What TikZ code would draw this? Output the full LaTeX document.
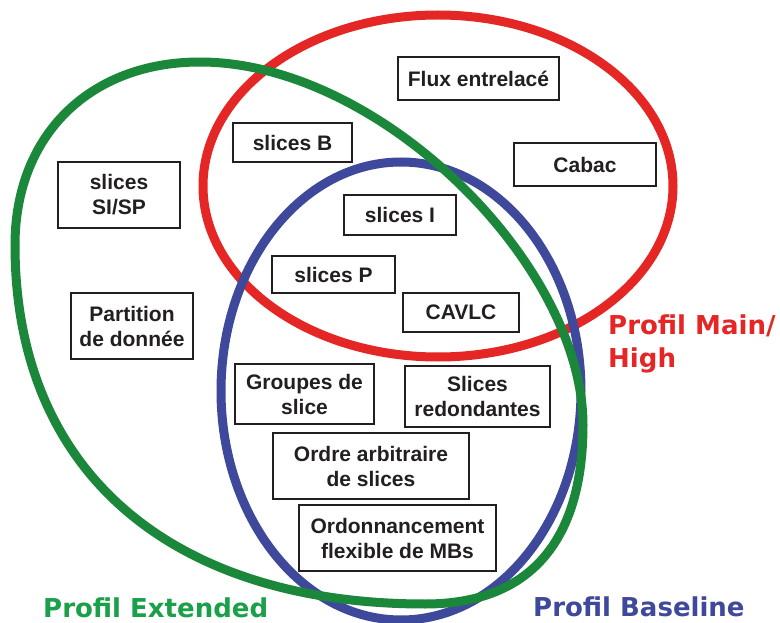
\documentclass[tikz,border=0pt]{standalone}
\usepackage{fontspec}
\setmainfont{Liberation Sans}
\newfontfamily\titlefont{DejaVu Sans}
\definecolor{cred}{RGB}{228,38,36}
\definecolor{cblue}{RGB}{62,73,155}
\definecolor{cgreen}{RGB}{27,135,58}
\definecolor{cgreentxt}{RGB}{25,160,72}
\definecolor{cbox}{RGB}{35,31,32}
\tikzset{
  feat/.style={draw=cbox, line width=2pt, fill=white, inner sep=0pt, align=center,
    font=\bfseries\fontsize{21}{25}\selectfont, text=cbox},
  ring/.style={line width=9pt},
  ttl/.style={inner sep=0pt, align=left, font=\titlefont\bfseries\fontsize{26}{33}\selectfont}
}
\begin{document}
\begin{tikzpicture}[x=1pt,y=-1pt]
\useasboundingbox (0,0) rectangle (780,623);
\fill[white] (0,0) rectangle (780,623);
% rings
\draw[ring, cred] (438,186) ellipse [x radius=235, y radius=171];
\draw[ring, cblue] (401,391) ellipse [x radius=180, y radius=229];
\coordinate (gT) at (200,62);
\coordinate (gR) at (583,425);
\coordinate (gB) at (425,604);
\coordinate (gL) at (15,245);
\draw[ring, cgreen] (gT) .. controls (380,62) and (583,265) .. (gR)
  .. controls (583,535) and (535,604) .. (gB)
  .. controls (175,604) and (15,475) .. (gL)
  .. controls (15,135) and (90,62) .. (gT) -- cycle;
% boxes
\node[feat, minimum width=161pt, minimum height=43pt] (flux) at (478.5,78.5) {Flux entrelacé};
\node[feat, minimum width=119pt, minimum height=39pt] (sb) at (292.5,142.5) {slices B};
\node[feat, minimum width=142pt, minimum height=43pt] (cabac) at (585,164.5) {Cabac};
\node[feat, minimum width=122pt, minimum height=66pt] (sisp) at (119,195) {slices\\SI/SP};
\node[feat, minimum width=112pt, minimum height=40pt] (si) at (400,215) {slices I};
\node[feat, minimum width=123pt, minimum height=37pt] (sp) at (333.5,274.5) {slices P};
\node[feat, minimum width=116pt, minimum height=39pt] (cavlc) at (461,312.5) {CAVLC};
\node[feat, minimum width=122pt, minimum height=66pt] (part) at (132,326) {Partition\\de donnée};
\node[feat, minimum width=139pt, minimum height=60pt] (grp) at (304.5,394) {Groupes de\\slice};
\node[feat, minimum width=145pt, minimum height=61pt] (red) at (477.5,396.5) {Slices\\redondantes};
\node[feat, minimum width=196pt, minimum height=66pt] (ord) at (371,466) {Ordre arbitraire\\de slices};
\node[feat, minimum width=197pt, minimum height=66pt] (fmo) at (397.5,538) {Ordonnancement\\flexible de MBs};
% titles
\node[ttl, text=cred, anchor=north west] (tmain) at (608,315) {Profil Main/\\High};
\node[ttl, text=cgreentxt, anchor=base west] (text) at (43,617) {Profil Extended};
\node[ttl, text=cblue, anchor=base west] (tbase) at (533,616) {Profil Baseline};
\end{tikzpicture}
\end{document}
